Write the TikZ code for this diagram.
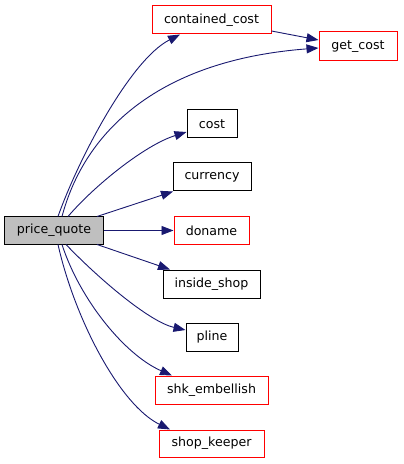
\documentclass[tikz,border=0pt]{standalone}
\usepackage{fontspec}
\setmainfont{DejaVu Sans}
\usetikzlibrary{arrows.meta}
\definecolor{edgeblue}{HTML}{191970}
\definecolor{nodegray}{HTML}{BFBFBF}
\tikzset{
  fn/.style={draw=black, line width=1bp, fill=white, minimum height=28bp, inner sep=0pt,
    font=\fontsize{12.6bp}{15bp}\selectfont},
  fnred/.style={fn, draw=red},
  fnmain/.style={fn, fill=nodegray},
  call/.style={draw=edgeblue, line width=0.9bp, -{Triangle[length=12bp,width=9bp]}, edgeblue}
}
\begin{document}
\begin{tikzpicture}[x=1bp,y=-1bp]
\useasboundingbox (0,0) rectangle (403,464);
\node[fnmain, minimum width=98bp, minimum height=27bp] (pq) at (54,230.5) {price\_quote};
\node[fnred, minimum width=119bp] (cc) at (211.5,20) {contained\_cost};
\node[fnred, minimum width=78bp, minimum height=29bp] (gc) at (358,46.5) {get\_cost};
\node[fn, minimum width=50bp] (co) at (212,124) {cost};
\node[fn, minimum width=78bp] (cur) at (212,177) {currency};
\node[fnred, minimum width=75bp, minimum height=27bp] (dn) at (211.5,230.5) {doname};
\node[fn, minimum width=97bp] (ins) at (211.5,284) {inside\_shop};
\node[fn, minimum width=52bp] (pl) at (212,337) {pline};
\node[fnred, minimum width=113bp] (shk) at (211.5,390) {shk\_embellish};
\node[fnred, minimum width=105bp, minimum height=27bp] (sk) at (211.5,443.5) {shop\_keeper};

\draw[call] ([xshift=4bp]pq.north) .. controls (78,160) and (130,60) .. ([xshift=-31.5bp]cc.south);
\draw[call] ([xshift=8bp]pq.north) .. controls (85,130) and (160,60) .. ([yshift=-1.5bp]gc.west);
\draw[call] ([yshift=-11bp]cc.east) -- ([yshift=6.5bp]gc.west);
\draw[call] ([xshift=14bp]pq.north) .. controls (95,185) and (145,145) .. ([yshift=-8bp]co.west);
\draw[call] ([xshift=43bp]pq.north) -- ([xshift=-39bp]cur.south);
\draw[call] (pq.east) -- (dn.west);
\draw[call] ([xshift=43bp]pq.south) -- ([xshift=-41.5bp]ins.north);
\draw[call] ([xshift=12bp]pq.south) .. controls (100,280) and (150,322) .. ([yshift=7bp]pl.west);
\draw[call] ([xshift=8bp]pq.south) .. controls (80,300) and (125,355) .. ([xshift=-39.5bp]shk.north);
\draw[call] ([xshift=4bp]pq.south) .. controls (75,320) and (120,405) .. ([xshift=-41.5bp]sk.north);
\end{tikzpicture}
\end{document}
